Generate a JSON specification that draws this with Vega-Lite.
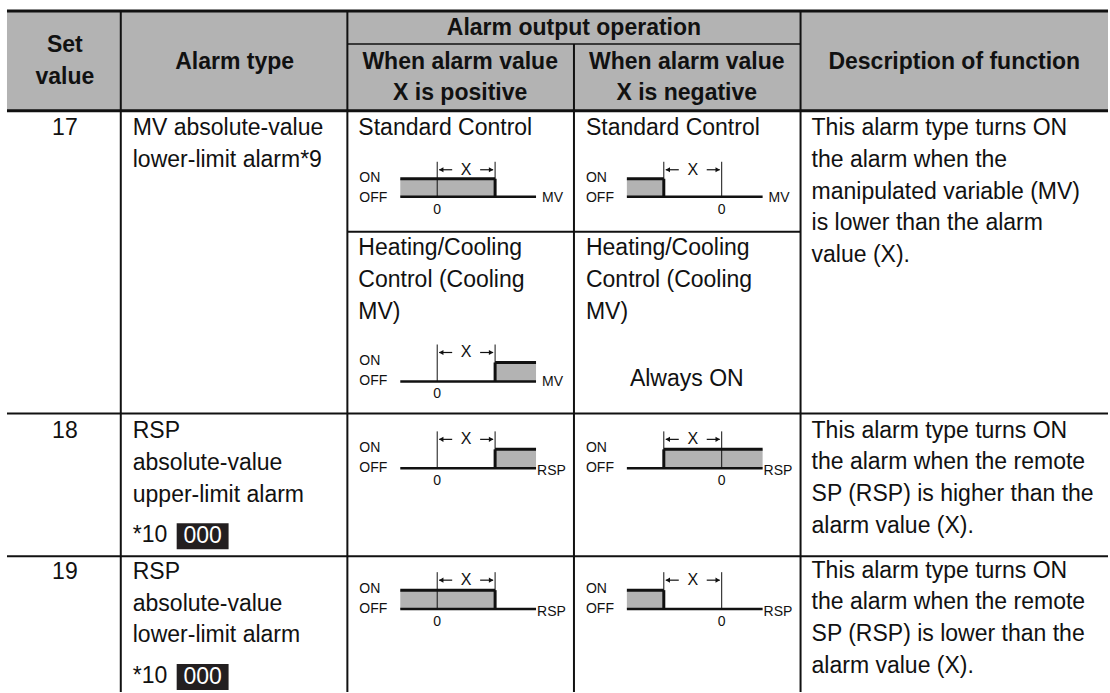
{
"$schema":"https://vega.github.io/schema/vega-lite/v6.json",
"width":1110,"height":693,
"autosize":{"type":"fit","contains":"padding"},
"padding":0,
"background":"white",
"config":{"view":{"stroke":null},"font":"Liberation Sans","text":{"font":"Liberation Sans"}},
"datasets":{
"rects":[
{"x":7,"x2":1110,"y":10,"y2":111,"fill":"#b3b3b3"},
{"x":401,"x2":496,"y":179,"y2":197,"fill":"#b3b3b3"},
{"x":628,"x2":665,"y":179,"y2":197,"fill":"#b3b3b3"},
{"x":496,"x2":537,"y":363,"y2":382,"fill":"#b3b3b3"},
{"x":496,"x2":537,"y":450,"y2":469,"fill":"#b3b3b3"},
{"x":665,"x2":764,"y":450,"y2":469,"fill":"#b3b3b3"},
{"x":401,"x2":496,"y":591,"y2":610,"fill":"#b3b3b3"},
{"x":628,"x2":665,"y":591,"y2":610,"fill":"#b3b3b3"},
{"x":177,"x2":229,"y":524,"y2":550,"fill":"#231f20"},
{"x":177,"x2":229,"y":665,"y2":691,"fill":"#231f20"}
],
"rules":[
{"x":7,"x2":1110,"y":11,"y2":11,"w":3},
{"x":7,"x2":1110,"y":111,"y2":111,"w":3},
{"x":348,"x2":802,"y":44,"y2":44,"w":1.5},
{"x":121,"x2":121,"y":10,"y2":693,"w":2},
{"x":348,"x2":348,"y":10,"y2":693,"w":2},
{"x":802,"x2":802,"y":10,"y2":693,"w":2},
{"x":575,"x2":575,"y":44,"y2":693,"w":2},
{"x":348,"x2":802,"y":232,"y2":232,"w":2},
{"x":7,"x2":1110,"y":414,"y2":414,"w":2},
{"x":7,"x2":1110,"y":557,"y2":557,"w":2},

{"x":401,"x2":537,"y":197,"y2":197,"w":2.5},
{"x":401,"x2":496,"y":179,"y2":179,"w":3},
{"x":496,"x2":496,"y":179,"y2":197,"w":3},
{"x":438,"x2":438,"y":162,"y2":197,"w":1},
{"x":496,"x2":496,"y":162,"y2":197,"w":1},
{"x":440,"x2":453,"y":170,"y2":170,"w":1.2},
{"x":481,"x2":494,"y":170,"y2":170,"w":1.2},

{"x":628,"x2":764,"y":197,"y2":197,"w":2.5},
{"x":628,"x2":665,"y":179,"y2":179,"w":3},
{"x":665,"x2":665,"y":179,"y2":197,"w":3},
{"x":665,"x2":665,"y":162,"y2":197,"w":1},
{"x":723,"x2":723,"y":162,"y2":197,"w":1},
{"x":667,"x2":680,"y":170,"y2":170,"w":1.2},
{"x":708,"x2":721,"y":170,"y2":170,"w":1.2},

{"x":401,"x2":537,"y":382,"y2":382,"w":2.5},
{"x":496,"x2":537,"y":363,"y2":363,"w":3},
{"x":496,"x2":496,"y":363,"y2":382,"w":3},
{"x":438,"x2":438,"y":345,"y2":382,"w":1},
{"x":496,"x2":496,"y":345,"y2":382,"w":1},
{"x":440,"x2":453,"y":353,"y2":353,"w":1.2},
{"x":481,"x2":494,"y":353,"y2":353,"w":1.2},

{"x":401,"x2":537,"y":469,"y2":469,"w":2.5},
{"x":496,"x2":537,"y":450,"y2":450,"w":3},
{"x":496,"x2":496,"y":450,"y2":469,"w":3},
{"x":438,"x2":438,"y":432,"y2":469,"w":1},
{"x":496,"x2":496,"y":432,"y2":469,"w":1},
{"x":440,"x2":453,"y":440,"y2":440,"w":1.2},
{"x":481,"x2":494,"y":440,"y2":440,"w":1.2},

{"x":628,"x2":764,"y":469,"y2":469,"w":2.5},
{"x":665,"x2":764,"y":450,"y2":450,"w":3},
{"x":665,"x2":665,"y":450,"y2":469,"w":3},
{"x":665,"x2":665,"y":432,"y2":469,"w":1},
{"x":723,"x2":723,"y":432,"y2":469,"w":1},
{"x":667,"x2":680,"y":440,"y2":440,"w":1.2},
{"x":708,"x2":721,"y":440,"y2":440,"w":1.2},

{"x":401,"x2":537,"y":610,"y2":610,"w":2.5},
{"x":401,"x2":496,"y":591,"y2":591,"w":3},
{"x":496,"x2":496,"y":591,"y2":610,"w":3},
{"x":438,"x2":438,"y":573,"y2":610,"w":1},
{"x":496,"x2":496,"y":573,"y2":610,"w":1},
{"x":440,"x2":453,"y":581,"y2":581,"w":1.2},
{"x":481,"x2":494,"y":581,"y2":581,"w":1.2},

{"x":628,"x2":764,"y":610,"y2":610,"w":2.5},
{"x":628,"x2":665,"y":591,"y2":591,"w":3},
{"x":665,"x2":665,"y":591,"y2":610,"w":3},
{"x":665,"x2":665,"y":573,"y2":610,"w":1},
{"x":723,"x2":723,"y":573,"y2":610,"w":1},
{"x":667,"x2":680,"y":581,"y2":581,"w":1.2},
{"x":708,"x2":721,"y":581,"y2":581,"w":1.2}
],
"heads":[
{"x":442,"y":170,"s":"triangle-left"},{"x":492,"y":170,"s":"triangle-right"},
{"x":669,"y":170,"s":"triangle-left"},{"x":719,"y":170,"s":"triangle-right"},
{"x":442,"y":353,"s":"triangle-left"},{"x":492,"y":353,"s":"triangle-right"},
{"x":442,"y":440,"s":"triangle-left"},{"x":492,"y":440,"s":"triangle-right"},
{"x":669,"y":440,"s":"triangle-left"},{"x":719,"y":440,"s":"triangle-right"},
{"x":442,"y":581,"s":"triangle-left"},{"x":492,"y":581,"s":"triangle-right"},
{"x":669,"y":581,"s":"triangle-left"},{"x":719,"y":581,"s":"triangle-right"}
],
"texts":[
{"k":"h","x":65,"y":45,"t":"Set","fs":23},
{"k":"h","x":65,"y":77,"t":"value","fs":23},
{"k":"h","x":235,"y":62,"t":"Alarm type","fs":23},
{"k":"h","x":575,"y":28,"t":"Alarm output operation","fs":23},
{"k":"h","x":461,"y":62,"t":"When alarm value","fs":23},
{"k":"h","x":461,"y":93,"t":"X is positive","fs":23},
{"k":"h","x":688,"y":62,"t":"When alarm value","fs":23},
{"k":"h","x":688,"y":93,"t":"X is negative","fs":23},
{"k":"h","x":956,"y":62,"t":"Description of function","fs":23},

{"k":"c","x":65,"y":128,"t":"17","fs":23},
{"k":"c","x":65,"y":432,"t":"18","fs":23},
{"k":"c","x":65,"y":573,"t":"19","fs":23},
{"k":"c","x":688,"y":380,"t":"Always ON","fs":23},

{"k":"l","x":133,"y":128,"t":"MV absolute-value","fs":23},
{"k":"l","x":133,"y":160,"t":"lower-limit alarm*9","fs":23},
{"k":"l","x":133,"y":432,"t":"RSP","fs":23},
{"k":"l","x":133,"y":464,"t":"absolute-value","fs":23},
{"k":"l","x":133,"y":496,"t":"upper-limit alarm","fs":23},
{"k":"l","x":133,"y":536,"t":"*10","fs":23},
{"k":"l","x":133,"y":573,"t":"RSP","fs":23},
{"k":"l","x":133,"y":605,"t":"absolute-value","fs":23},
{"k":"l","x":133,"y":636,"t":"lower-limit alarm","fs":23},
{"k":"l","x":133,"y":677,"t":"*10","fs":23},

{"k":"l","x":359,"y":128,"t":"Standard Control","fs":23},
{"k":"l","x":359,"y":248,"t":"Heating/Cooling","fs":23},
{"k":"l","x":359,"y":280,"t":"Control (Cooling","fs":23},
{"k":"l","x":359,"y":312,"t":"MV)","fs":23},
{"k":"l","x":587,"y":128,"t":"Standard Control","fs":23},
{"k":"l","x":587,"y":248,"t":"Heating/Cooling","fs":23},
{"k":"l","x":587,"y":280,"t":"Control (Cooling","fs":23},
{"k":"l","x":587,"y":312,"t":"MV)","fs":23},

{"k":"l","x":813,"y":128,"t":"This alarm type turns ON","fs":23},
{"k":"l","x":813,"y":160,"t":"the alarm when the","fs":23},
{"k":"l","x":813,"y":192,"t":"manipulated variable (MV)","fs":23},
{"k":"l","x":813,"y":223,"t":"is lower than the alarm","fs":23},
{"k":"l","x":813,"y":255,"t":"value (X).","fs":23},
{"k":"l","x":813,"y":432,"t":"This alarm type turns ON","fs":23},
{"k":"l","x":813,"y":463,"t":"the alarm when the remote","fs":23},
{"k":"l","x":813,"y":495,"t":"SP (RSP) is higher than the","fs":23},
{"k":"l","x":813,"y":527,"t":"alarm value (X).","fs":23},
{"k":"l","x":813,"y":572,"t":"This alarm type turns ON","fs":23},
{"k":"l","x":813,"y":603,"t":"the alarm when the remote","fs":23},
{"k":"l","x":813,"y":635,"t":"SP (RSP) is lower than the","fs":23},
{"k":"l","x":813,"y":667,"t":"alarm value (X).","fs":23},

{"k":"w","x":203,"y":537,"t":"000","fs":23},
{"k":"w","x":203,"y":678,"t":"000","fs":23},

{"k":"c","x":467,"y":170,"t":"X","fs":16},
{"k":"c","x":438,"y":210,"t":"0","fs":14},
{"k":"l","x":360,"y":178,"t":"ON","fs":14},
{"k":"l","x":360,"y":198,"t":"OFF","fs":14},
{"k":"l","x":543,"y":198,"t":"MV","fs":14},

{"k":"c","x":694,"y":170,"t":"X","fs":16},
{"k":"c","x":723,"y":210,"t":"0","fs":14},
{"k":"l","x":587,"y":178,"t":"ON","fs":14},
{"k":"l","x":587,"y":198,"t":"OFF","fs":14},
{"k":"l","x":770,"y":198,"t":"MV","fs":14},

{"k":"c","x":467,"y":353,"t":"X","fs":16},
{"k":"c","x":438,"y":395,"t":"0","fs":14},
{"k":"l","x":360,"y":362,"t":"ON","fs":14},
{"k":"l","x":360,"y":382,"t":"OFF","fs":14},
{"k":"l","x":543,"y":383,"t":"MV","fs":14},

{"k":"c","x":467,"y":440,"t":"X","fs":16},
{"k":"c","x":438,"y":482,"t":"0","fs":14},
{"k":"l","x":360,"y":449,"t":"ON","fs":14},
{"k":"l","x":360,"y":469,"t":"OFF","fs":14},
{"k":"l","x":538,"y":472,"t":"RSP","fs":14},

{"k":"c","x":694,"y":440,"t":"X","fs":16},
{"k":"c","x":723,"y":482,"t":"0","fs":14},
{"k":"l","x":587,"y":449,"t":"ON","fs":14},
{"k":"l","x":587,"y":469,"t":"OFF","fs":14},
{"k":"l","x":765,"y":472,"t":"RSP","fs":14},

{"k":"c","x":467,"y":581,"t":"X","fs":16},
{"k":"c","x":438,"y":623,"t":"0","fs":14},
{"k":"l","x":360,"y":590,"t":"ON","fs":14},
{"k":"l","x":360,"y":610,"t":"OFF","fs":14},
{"k":"l","x":538,"y":613,"t":"RSP","fs":14},

{"k":"c","x":694,"y":581,"t":"X","fs":16},
{"k":"c","x":723,"y":623,"t":"0","fs":14},
{"k":"l","x":587,"y":590,"t":"ON","fs":14},
{"k":"l","x":587,"y":610,"t":"OFF","fs":14},
{"k":"l","x":765,"y":613,"t":"RSP","fs":14}
]
},
"encoding":{
"x":{"field":"x","type":"quantitative","scale":{"domain":[0,1110],"nice":false,"zero":false},"axis":null},
"y":{"field":"y","type":"quantitative","scale":{"domain":[0,693],"nice":false,"zero":false,"reverse":true},"axis":null}
},
"layer":[
{"data":{"name":"rects"},"mark":{"type":"rect"},"encoding":{"x2":{"field":"x2"},"y2":{"field":"y2"},"color":{"field":"fill","type":"nominal","scale":null}}},
{"data":{"name":"rules"},"mark":{"type":"rule","color":"#111111"},"encoding":{"x2":{"field":"x2"},"y2":{"field":"y2"},"strokeWidth":{"field":"w","type":"quantitative","scale":null}}},
{"data":{"name":"heads"},"mark":{"type":"point","filled":true,"color":"#111111","size":26,"opacity":1,"strokeWidth":0},"encoding":{"shape":{"field":"s","type":"nominal","scale":null}}},
{"data":{"name":"texts"},"transform":[{"filter":"datum.k=='h'"}],"mark":{"type":"text","fontWeight":"bold","align":"center","baseline":"middle","color":"#111111"},"encoding":{"text":{"field":"t"},"size":{"field":"fs","type":"quantitative","scale":null}}},
{"data":{"name":"texts"},"transform":[{"filter":"datum.k=='c'"}],"mark":{"type":"text","align":"center","baseline":"middle","color":"#111111"},"encoding":{"text":{"field":"t"},"size":{"field":"fs","type":"quantitative","scale":null}}},
{"data":{"name":"texts"},"transform":[{"filter":"datum.k=='l'"}],"mark":{"type":"text","align":"left","baseline":"middle","color":"#111111"},"encoding":{"text":{"field":"t"},"size":{"field":"fs","type":"quantitative","scale":null}}},
{"data":{"name":"texts"},"transform":[{"filter":"datum.k=='w'"}],"mark":{"type":"text","align":"center","baseline":"middle","color":"#ffffff"},"encoding":{"text":{"field":"t"},"size":{"field":"fs","type":"quantitative","scale":null}}}
]
}
